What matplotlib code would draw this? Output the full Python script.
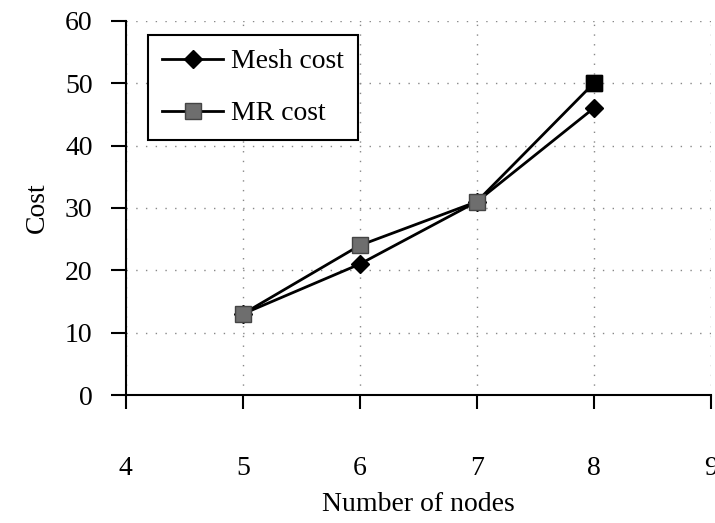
import matplotlib.pyplot as plt

plt.rcParams['font.family'] = ['Liberation Serif', 'DejaVu Serif']

nodes = [5, 6, 7, 8]
mesh_cost = [13, 21, 31, 46]
mr_cost = [13, 24, 31, 50]
x_ticks = [4, 5, 6, 7, 8, 9]
y_ticks = [0, 10, 20, 30, 40, 50, 60]

fig = plt.figure(figsize=(7.15, 5.23), dpi=100)
ax = fig.add_axes([0.176, 0.2447, 0.818, 0.7153])

ax.plot(nodes, mesh_cost, color='black', lw=2.0, marker='D', ms=9.5,
        mfc='black', mec='black', label='Mesh cost', zorder=3)
ax.plot(nodes, mr_cost, color='black', lw=2.0, marker='s', ms=11.5,
        mfc='#6e6e6e', mec='#444444', label='MR cost', zorder=3)
# last square prints darker in the reference
ax.plot(nodes[-1:], mr_cost[-1:], ls='none', marker='s', ms=11.5,
        mfc='black', mec='black', zorder=4)

ax.set_xlim(4, 9)
ax.set_ylim(0, 60)
ax.set_xticks(x_ticks)
ax.set_yticks(y_ticks)

ax.spines['top'].set_visible(False)
ax.spines['right'].set_visible(False)
ax.spines['left'].set_linewidth(1.5)
ax.spines['bottom'].set_linewidth(1.5)

ax.tick_params(axis='x', direction='out', length=10, width=1.5, pad=34, labelsize=20)
ax.tick_params(axis='y', direction='out', length=11, width=1.5, pad=13, labelsize=20)

ax.grid(True, color='#888888', linestyle=(0, (1, 6)), lw=1.0)
ax.set_axisbelow(True)

ax.set_xlabel('Number of nodes', fontsize=20, labelpad=8)
ax.set_ylabel('Cost', fontsize=20, labelpad=11)

leg = ax.legend(loc='upper left', bbox_to_anchor=(0.038, 0.962), fontsize=20,
                frameon=True, fancybox=False, edgecolor='black',
                handlelength=2.2, labelspacing=0.95, borderpad=0.5,
                handletextpad=0.3, borderaxespad=0)
leg.get_frame().set_linewidth(1.5)
leg.get_frame().set_facecolor('white')
leg.get_frame().set_alpha(1)

fig.savefig('out.png', dpi=100)
